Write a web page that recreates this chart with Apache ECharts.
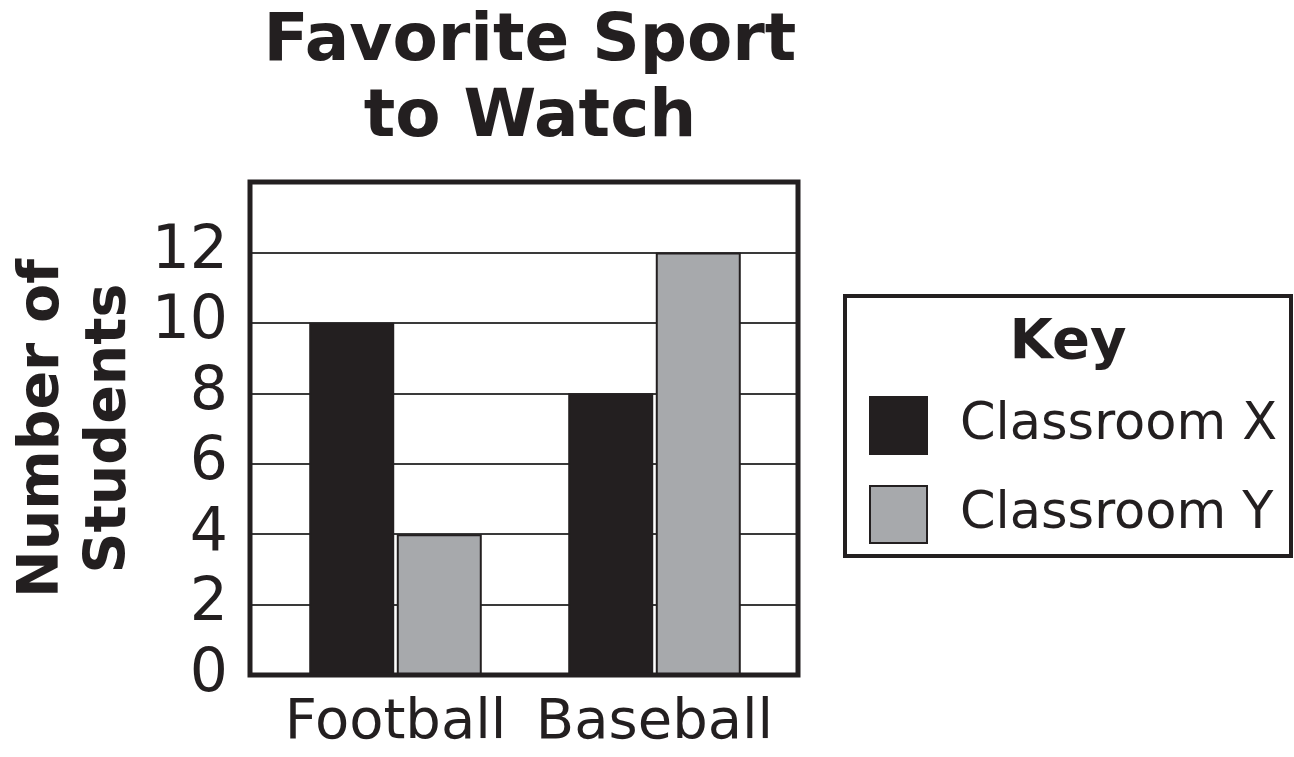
<!DOCTYPE html>
<html>
<head>
<meta charset="utf-8">
<script src="https://cdn.jsdelivr.net/npm/echarts@6/dist/echarts.min.js"></script>
<style>html,body{margin:0;padding:0;background:#fff;}#c{width:1294px;height:757px;}</style>
</head>
<body>
<div id="c"></div>
<script>
var categories = ['Football', 'Baseball'];
var classroomX = [10, 8];
var classroomY = [4, 12];
var seriesNames = ['Classroom X', 'Classroom Y'];
var yTicks = [0, 2, 4, 6, 8, 10, 12];

var INK = '#231f20';
var GRAY = '#a7a9ac';
var FONT = 'DejaVu Sans';

var chart = echarts.init(document.getElementById('c'));
chart.setOption({
  backgroundColor: '#fff',
  animation: false,
  title: {
    text: 'Favorite Sport\nto Watch',
    left: 525, top: 0, textAlign: 'center',
    textStyle: { fontFamily: FONT, fontWeight: 'bold', fontSize: 66, lineHeight: 76, color: INK }
  },
  grid: [
    { left: 250, top: 182, width: 548, height: 493, show: true, borderColor: INK, borderWidth: 5,
      backgroundColor: 'transparent', z: 3, outerBoundsMode: 'none', containLabel: false },
    { left: 266, top: 182, width: 518, height: 493, outerBoundsMode: 'none', containLabel: false }
  ],
  xAxis: [
    { type: 'category', gridIndex: 0, data: categories, show: false },
    { type: 'category', gridIndex: 1, data: categories,
      axisLine: { show: false }, axisTick: { show: false },
      axisLabel: { interval: 0, fontFamily: FONT, fontSize: 56, color: INK, margin: 20 } }
  ],
  yAxis: [
    { type: 'value', gridIndex: 0, min: 0, max: 14, interval: 2,
      name: 'Number of\nStudents', nameLocation: 'middle', nameRotate: 90, nameGap: 106,
      nameTextStyle: { fontFamily: FONT, fontWeight: 'bold', fontSize: 57, lineHeight: 67, color: INK },
      axisLine: { show: false }, axisTick: { show: false },
      splitLine: { show: true, lineStyle: { color: '#3a3a3a', width: 2 } },
      axisLabel: { fontFamily: FONT, fontSize: 60, color: INK, margin: 22,
        formatter: function (v) { return yTicks.indexOf(v) >= 0 ? String(v) : ''; } } },
    { type: 'value', gridIndex: 1, min: 0, max: 14, interval: 2, show: false, splitLine: { show: false } }
  ],
  legend: {
    orient: 'vertical', left: 864, top: 391, itemWidth: 57, itemHeight: 57, itemGap: 30,
    icon: 'rect',
    data: seriesNames,
    textStyle: { fontFamily: FONT, fontSize: 51, lineHeight: 57, color: INK, padding: [0, 0, 0, 28] }
  },
  graphic: [
    { type: 'rect', shape: { x: 845, y: 296, width: 446, height: 260 },
      style: { fill: 'transparent', stroke: INK, lineWidth: 4 } },
    { type: 'text', x: 1068, y: 343,
      style: { text: 'Key', fill: INK, font: 'bold 56px "DejaVu Sans"', textAlign: 'center', textVerticalAlign: 'middle' } }
  ],
  series: [
    { name: seriesNames[0], type: 'bar', xAxisIndex: 1, yAxisIndex: 1, data: classroomX,
      barWidth: 85, barGap: '3%',
      itemStyle: { color: INK, borderColor: INK, borderWidth: 2 } },
    { name: seriesNames[1], type: 'bar', xAxisIndex: 1, yAxisIndex: 1, data: classroomY,
      barWidth: 85, barGap: '3%',
      itemStyle: { color: GRAY, borderColor: INK, borderWidth: 2 } }
  ]
});
</script>
</body>
</html>
